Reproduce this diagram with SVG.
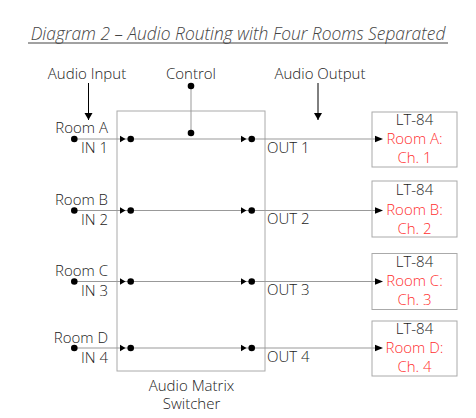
<svg xmlns="http://www.w3.org/2000/svg" width="476" height="418" viewBox="0 0 476 418">
<defs>
<style>
text{font-family:"Open Sans","Noto Sans","Liberation Sans",sans-serif;font-size:15px;font-weight:300;fill:#222}
.red{fill:#ff3030}
.ln{stroke:#999;stroke-width:1;fill:none}
.box{stroke:#aaa;stroke-width:1;fill:none}
.k{fill:#000}
.mid{text-anchor:middle}
.end{text-anchor:end}
</style>
<marker id="ah" markerWidth="8" markerHeight="9" refX="7" refY="4" orient="auto" markerUnits="userSpaceOnUse"><path d="M0,0 L7,4 L0,8 Z" fill="#000"/></marker>
<g id="jack"><path d="M0,-3.2 L5.5,0 L0,3.2 Z" fill="#000"/><circle cx="10.7" cy="0" r="3.3" fill="#000"/></g>
</defs>
<rect width="476" height="418" fill="#fff"/>
<g id="title">
<text x="238" y="40" class="mid" style="font-size:17.4px;font-style:italic;fill:#444">Diagram 2 – Audio Routing with Four Rooms Separated</text>
<line x1="28" y1="43" x2="448" y2="43" stroke="#444" stroke-width="1"/>
</g>
<g id="switcher">
<rect x="117" y="111" width="148" height="260" class="box"/>
<text x="191.5" y="391" class="mid">Audio Matrix</text>
<text x="191.5" y="408.5" class="mid">Switcher</text>
</g>
<g id="connectors">
<line x1="74" y1="139" x2="375" y2="139" class="ln"/>
<line x1="74" y1="210.5" x2="375" y2="210.5" class="ln"/>
<line x1="74" y1="281.5" x2="375" y2="281.5" class="ln"/>
<line x1="74" y1="348" x2="375" y2="348" class="ln"/>
<line x1="191" y1="86" x2="191" y2="133" class="ln"/>
<line x1="88.5" y1="83" x2="88.5" y2="120" stroke="#000" stroke-width="1" marker-end="url(#ah)"/>
<line x1="318" y1="83" x2="318" y2="120" stroke="#000" stroke-width="1" marker-end="url(#ah)"/>
<path d="M375,135.8 L383,139 L375,142.2 Z" class="k"/>
<path d="M375,207.3 L383,210.5 L375,213.7 Z" class="k"/>
<path d="M375,278.3 L383,281.5 L375,284.7 Z" class="k"/>
<path d="M375,344.8 L383,348 L375,351.2 Z" class="k"/>
<use href="#jack" x="120" y="139"/><use href="#jack" x="241" y="139"/>
<use href="#jack" x="120" y="210.5"/><use href="#jack" x="241" y="210.5"/>
<use href="#jack" x="120" y="281.5"/><use href="#jack" x="241" y="281.5"/>
<use href="#jack" x="120" y="348"/><use href="#jack" x="241" y="348"/>
<circle cx="74.3" cy="139" r="3.3" class="k"/>
<circle cx="74.3" cy="210.5" r="3.3" class="k"/>
<circle cx="74.3" cy="281.5" r="3.3" class="k"/>
<circle cx="74.3" cy="348" r="3.3" class="k"/>
<circle cx="191" cy="86" r="3.3" class="k"/>
<circle cx="191" cy="133" r="3.3" class="k"/>
</g>
<g id="labels">
<text x="87" y="79" class="mid">Audio Input</text>
<text x="191" y="79" class="mid">Control</text>
<text x="320" y="79" class="mid">Audio Output</text>
</g>
<g id="in1"><text x="108" y="133" class="end">Room A</text><text x="108" y="153" class="end">IN 1</text></g>
<g id="in2"><text x="108" y="205" class="end">Room B</text><text x="108" y="225" class="end">IN 2</text></g>
<g id="in3"><text x="108" y="276" class="end">Room C</text><text x="108" y="296" class="end">IN 3</text></g>
<g id="in4"><text x="108" y="342.5" class="end">Room D</text><text x="108" y="362.5" class="end">IN 4</text></g>
<g id="out1"><text x="267" y="152.5">OUT 1</text></g>
<g id="out2"><text x="267" y="224">OUT 2</text></g>
<g id="out3"><text x="267" y="295">OUT 3</text></g>
<g id="out4"><text x="267" y="361.5">OUT 4</text></g>
<g id="lt1"><rect x="372" y="112" width="85" height="55" class="box"/><text x="414.5" y="124.5" class="mid">LT-84</text><text x="414.5" y="144" class="mid red">Room A:</text><text x="414.5" y="162.5" class="mid red">Ch. 1</text></g>
<g id="lt2"><rect x="372" y="181" width="85" height="56" class="box"/><text x="414.5" y="195" class="mid">LT-84</text><text x="414.5" y="215" class="mid red">Room B:</text><text x="414.5" y="233.5" class="mid red">Ch. 2</text></g>
<g id="lt3"><rect x="372" y="253.5" width="85" height="56" class="box"/><text x="414.5" y="267" class="mid">LT-84</text><text x="414.5" y="286" class="mid red">Room C:</text><text x="414.5" y="304.5" class="mid red">Ch. 3</text></g>
<g id="lt4"><rect x="372" y="321" width="85" height="55" class="box"/><text x="414.5" y="334" class="mid">LT-84</text><text x="414.5" y="353" class="mid red">Room D:</text><text x="414.5" y="371.5" class="mid red">Ch. 4</text></g>
</svg>
